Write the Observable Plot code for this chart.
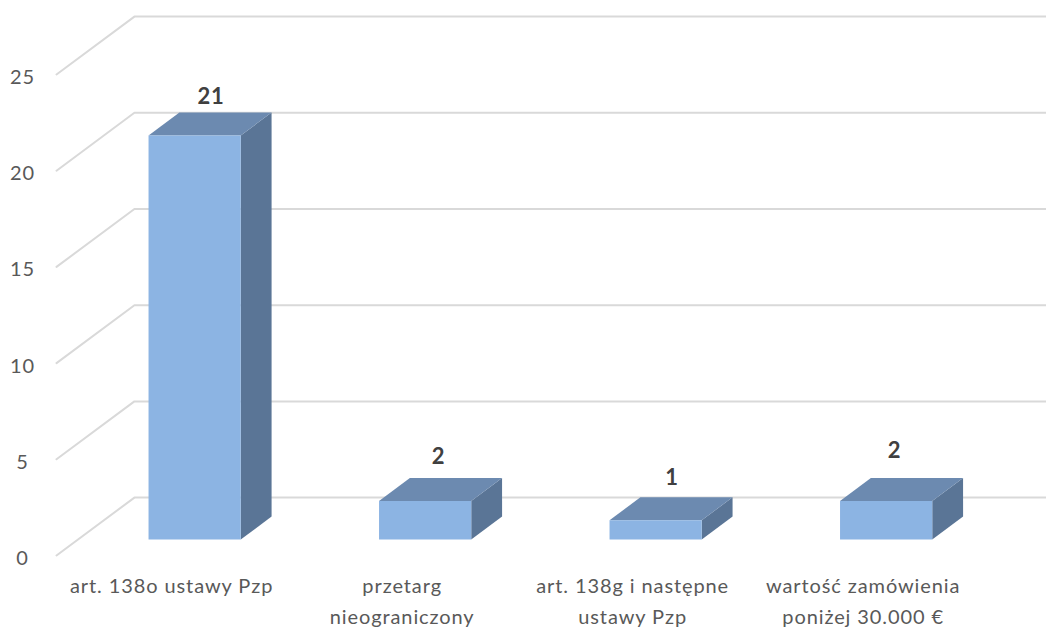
<!DOCTYPE html>
<html><head><meta charset="utf-8">
<script src="https://cdn.jsdelivr.net/npm/d3@7"></script>
<script src="https://cdn.jsdelivr.net/npm/@observablehq/plot@0.6"></script>
<style>html,body{margin:0;padding:0;background:#fff;overflow:hidden}svg{display:block}</style>
</head><body><div id="chart"></div>
<script>
const categories = ["art. 138o ustawy Pzp", "przetarg\nnieograniczony", "art. 138g i następne\nustawy Pzp", "wartość zamówienia\nponiżej 30.000 €"];
const values = [21, 2, 1, 2];
const ticks = [0, 5, 10, 15, 20, 25];
const labelShift = [1, -2, 1, -7];
const labelLift = [0, -5, -3, -11];

// oblique projection: depth d (0 front .. 1 back wall) shifts a point in data units
const DX = 0.338, DY = 3.01;
const P = (i, v, d) => ({x: i + d * DX, y: v + d * DY});
const D0 = 0.276, D1 = 0.672, L = 0.306, W = 0.40;

const walls = ticks.map(t => [P(0, t, 0), P(0, t, 1), P(4.2, t, 1)].map(p => ({...p, t})));
const face = (name, pts, i) => pts.map(p => ({...p, g: name + i}));
const frontFaces = [], topFaces = [], sideFaces = [];
values.forEach((v, i) => {
  const a = i + L, b = i + L + W;
  frontFaces.push(...face("f", [P(a,0,D0),P(b,0,D0),P(b,v,D0),P(a,v,D0)], i));
  topFaces.push(...face("t", [P(a,v,D0),P(b,v,D0),P(b,v,D1),P(a,v,D1)], i));
  sideFaces.push(...face("s", [P(b,0,D0),P(b,0,D1),P(b,v,D1),P(b,v,D0)], i));
});
const font = "Lato, 'Open Sans', sans-serif";

const plot = Plot.plot({
  width: 1046, height: 627,
  marginTop: 0, marginBottom: 0, marginLeft: 0, marginRight: 0,
  x: {domain: [-56/230.5, (1046-56)/230.5], range: [0, 1046], axis: null},
  y: {domain: [0, 25], range: [555, 74], axis: null},
  style: {fontFamily: font, background: "#fff", letterSpacing: "0.9px"},
  marks: [
    ...walls.map(w => Plot.line(w, {x: "x", y: "y", stroke: "#d9d9d9", strokeWidth: 2, curve: "linear"})),
    Plot.line(sideFaces, {x: "x", y: "y", z: "g", fill: "#5a7596", stroke: "none"}),
    Plot.line(topFaces, {x: "x", y: "y", z: "g", fill: "#6c8ab0", stroke: "none"}),
    Plot.line(frontFaces, {x: "x", y: "y", z: "g", fill: "#8cb4e3", stroke: "none"}),
    Plot.text(ticks, {x: 0, y: d => d, text: d => String(d), dx: -34, dy: 3, fontSize: 20, fill: "#595959", textAnchor: "middle"}),
    ...values.map((v, i) => Plot.text([v], {
      x: i + L + W / 2 + (D0 + D1) / 2 * DX, y: v + D1 * DY,
      text: d => String(d), dy: -16 + labelLift[i], dx: labelShift[i], fontSize: 22, fontWeight: 700, fill: "#404040", textAnchor: "middle"
    })),
    ...categories.map((c, i) => Plot.text([c], {
      x: i + L + W / 2 + D0 * DX, y: 0, text: d => d, dx: -23, dy: 16,
      lineAnchor: "top", lineHeight: 1.53, fontSize: 20, fill: "#595959", textAnchor: "middle"
    }))
  ]
});
document.getElementById("chart").append(plot);
</script></body></html>
